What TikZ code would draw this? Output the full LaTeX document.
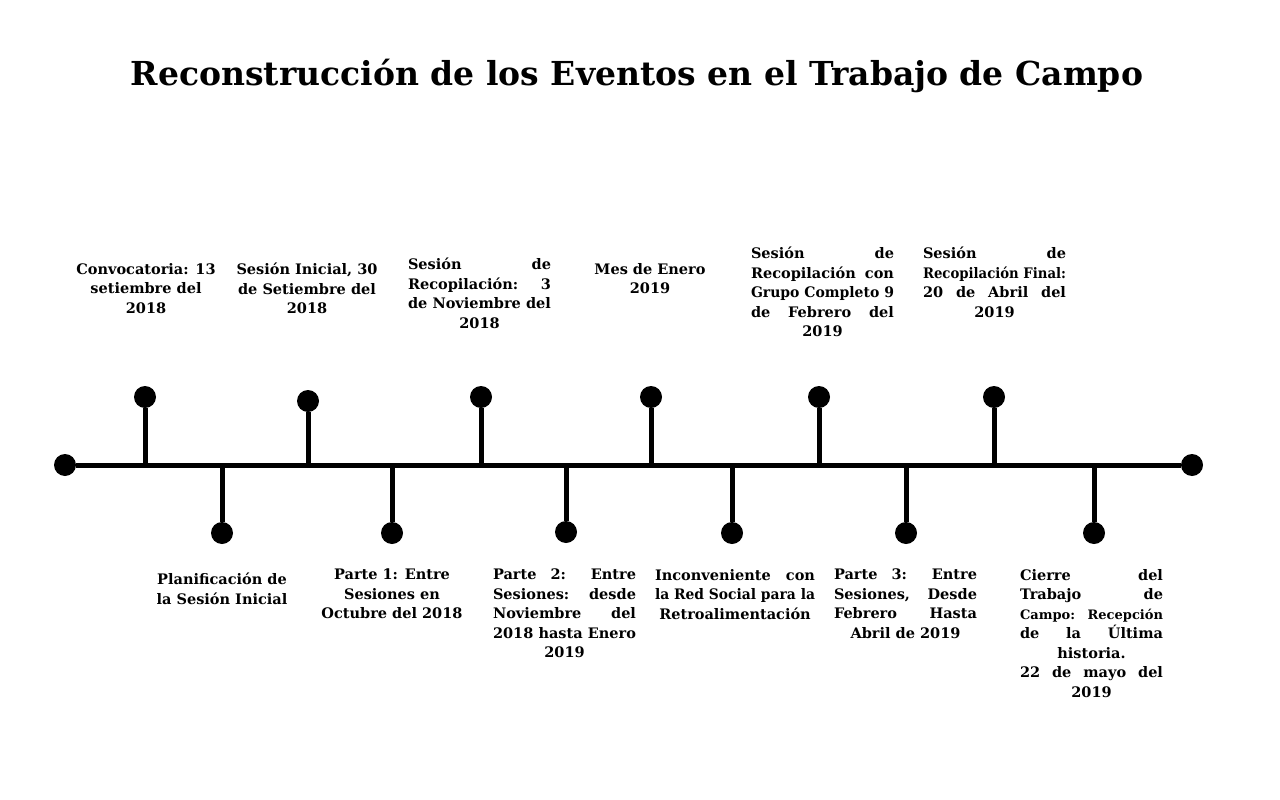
\documentclass[tikz,border=0pt]{standalone}
\usepackage{fontspec}
\usepackage{graphicx}
\setmainfont{DejaVu Serif}
\usetikzlibrary{positioning}
\newsavebox\jlbox
\newcommand{\jl}[2][143pt]{\sbox\jlbox{#2}%
  \ifdim\wd\jlbox>#1\relax\resizebox{#1}{\height}{#2}\else\makebox[#1][s]{#2}\fi}

\tikzset{
  dot/.style={circle,fill=black,inner sep=0pt,minimum size=22pt},
  stem/.style={line width=5pt},
  evt/.style={font=\bfseries\fontsize{14.5}{19.5}\selectfont,align=center,inner sep=0pt,anchor=north},
}

\begin{document}
\begin{tikzpicture}[x=1pt,y=-1pt]
  \useasboundingbox[fill=white] (0,0) rectangle (1280,800);
  \node[font=\bfseries\fontsize{33}{38}\selectfont] (title) at (637,76) {Reconstrucción de los Eventos en el Trabajo de Campo};
  % the time axis
  \node[dot] (start) at (65,465) {};
  \node[dot] (end) at (1192,465) {};
  \draw[stem] (start) -- (end);
  \foreach \n/\x/\y in {u1/145/397,d1/222/533,u2/308/401,d2/392/533,u3/481/397,d3/566/532,
                        u4/651/397,d4/732/533,u5/819/397,d5/906/533,u6/994/397,d6/1094/533}{
    \coordinate (\n b) at (\x,465);
    \node[dot] (\n) at (\x,\y) {};
    \draw[stem] (\n b) -- (\n);
  }
  % events above the axis
  \node[evt] (lu1) at (146,263) {Convocatoria: 13\\setiembre del\\2018};
  \node[evt] (lu2) at (307,263) {Sesión Inicial, 30\\de Setiembre del\\2018};
  \node[evt] (lu3) at (479.5,258) {\jl{Sesión de}\\\jl{Recopilación: 3}\\\jl{de Noviembre del}\\2018};
  \node[evt] (lu4) at (650,263) {Mes de Enero\\2019};
  \node[evt] (lu5) at (822.5,247) {\jl{Sesión de}\\\jl{Recopilación con}\\\jl{Grupo Completo 9}\\\jl{de Febrero del}\\2019};
  \node[evt] (lu6) at (994.5,247) {\jl{Sesión de}\\\jl{Recopilación Final:}\\\jl{20 de Abril del}\\2019};
  % events below the axis
  \node[evt] (ld1) at (222,573) {Planificación de\\la Sesión Inicial};
  \node[evt] (ld2) at (392,569) {Parte 1: Entre\\Sesiones en\\Octubre del 2018};
  \node[evt] (ld3) at (564.5,569) {\jl{Parte 2: Entre}\\\jl{Sesiones: desde}\\\jl{Noviembre del}\\\jl{2018 hasta Enero}\\2019};
  \node[evt] (ld4) at (735,569) {\jl[160pt]{Inconveniente con}\\\jl[160pt]{la Red Social para la}\\Retroalimentación};
  \node[evt] (ld5) at (905.5,569) {\jl{Parte 3: Entre}\\\jl{Sesiones, Desde}\\\jl{Febrero Hasta}\\Abril de 2019};
  \node[evt] (ld6) at (1091.5,569) {\jl{Cierre del}\\\jl{Trabajo de}\\\jl{\fontsize{13}{19.5}\selectfont Campo: Recepción}\\\jl{de la Última}\\historia.\\\jl{22 de mayo del}\\2019};
\end{tikzpicture}
\end{document}
